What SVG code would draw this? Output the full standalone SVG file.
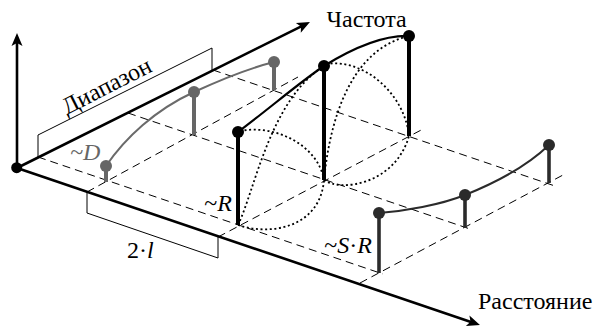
<svg xmlns="http://www.w3.org/2000/svg" width="593" height="326" viewBox="0 0 593 326">
<style>
.axis{stroke:#000;stroke-width:2.6;fill:none}
.dash{stroke:#000;stroke-width:1;stroke-dasharray:8,5;fill:none}
.dot{stroke:#000;stroke-width:1.8;stroke-dasharray:2,2.6;fill:none}
.br{stroke:#000;stroke-width:1;fill:none}
.stemK{stroke:#000;stroke-width:4}
.stemG{stroke:#666;stroke-width:4}
.stemD{stroke:#2b2b2b;stroke-width:3.6}
.crvK{stroke:#000;stroke-width:2.2;fill:none}
.crvG{stroke:#6a6a6a;stroke-width:2;fill:none}
.crvD{stroke:#2b2b2b;stroke-width:2;fill:none}
</style>
<defs>
<marker id="arr" viewBox="-6 -6 15 12" refX="0" refY="0" markerWidth="15" markerHeight="12" orient="auto" markerUnits="userSpaceOnUse">
<path d="M8,0 L-5,-5.5 L-2,0 L-5,5.5 Z" fill="#000"/>
</marker>
</defs>
<g id="grid">
<path class="dash" d="M38,157 L383,274"/>
<path class="dash" d="M128,113 L470,229"/>
<path class="dash" d="M213,70 L555,186"/>
<path class="dash" d="M87,192 L298,77"/>
<path class="dash" d="M218,237 L425,128"/>
<path class="dash" d="M360,283 L563,175"/>
</g>
<g id="connectors">
<path class="dot" d="M240,131 C275,124 318,145 324,180"/>
<path class="dot" d="M326,64 C365,58 405,95 409,136"/>
<path class="dot" d="M238,225 C270,236 320,228 324,180"/>
<path class="dot" d="M324,180 C340,192 395,185 409,136"/>
<path class="dot" d="M238,225 C255,190 270,100 324,66"/>
<path class="dot" d="M324,180 C330,120 350,50 409,36"/>
</g>
<g id="axes">
<line class="axis" x1="17" y1="168" x2="17" y2="41" marker-end="url(#arr)"/>
<line class="axis" x1="17" y1="168" x2="302.8" y2="25.6" marker-end="url(#arr)"/>
<line class="axis" x1="17" y1="168" x2="472.4" y2="322.4" marker-end="url(#arr)"/>
<circle cx="16.7" cy="167.7" r="5.5" fill="#000"/>
<text x="326.5" y="27" style="font-family:'Liberation Serif',serif;font-size:24px">Частота</text>
<text x="478" y="309" style="font-family:'Liberation Serif',serif;font-size:24px">Расстояние</text>
</g>
<g id="range">
<polyline class="br" points="38,157 38,135 212,48 212,70"/>
<text transform="translate(110,93) rotate(-27)" text-anchor="middle" style="font-family:'Liberation Serif',serif;font-size:24px">Диапазон</text>
</g>
<g id="interval">
<polyline class="br" points="87,192 87,213 218,258 218,237"/>
<text x="127" y="258" style="font-family:'Liberation Serif',serif;font-size:24px">2·<tspan style="font-style:italic">l</tspan></text>
</g>
<g id="series-D">
<path class="crvG" d="M106,166 C125,138 155,110 194,92 C220,80 250,68 274,62"/>
<line class="stemG" x1="106" y1="182" x2="106" y2="166"/>
<line class="stemG" x1="194" y1="135" x2="194" y2="92"/>
<line class="stemG" x1="274" y1="90" x2="274" y2="62"/>
<circle cx="106" cy="166" r="6" fill="#666"/>
<circle cx="194" cy="92" r="6" fill="#666"/>
<circle cx="274" cy="62" r="6" fill="#666"/>
<text x="70" y="160" style="font-family:'Liberation Serif',serif;font-size:24px;font-style:italic;fill:#666">~D</text>
</g>
<g id="series-R">
<path class="crvK" d="M238,132 C270,108 300,82 324,66 C350,50 380,35 409,36"/>
<line class="stemK" x1="238" y1="225" x2="238" y2="132"/>
<line class="stemK" x1="324" y1="180" x2="324" y2="66"/>
<line class="stemK" x1="409" y1="136" x2="409" y2="36"/>
<circle cx="238" cy="132" r="6" fill="#000"/>
<circle cx="324" cy="66" r="6" fill="#000"/>
<circle cx="409" cy="36" r="6" fill="#000"/>
<text x="232" y="211" text-anchor="end" style="font-family:'Liberation Serif',serif;font-size:24px">~<tspan style="font-style:italic">R</tspan></text>
</g>
<g id="series-SR">
<path class="crvD" d="M379,213 C405,211 440,205 465,195 C495,183 525,168 549,145"/>
<line class="stemD" x1="379" y1="273" x2="379" y2="213"/>
<line class="stemD" x1="465" y1="228" x2="465" y2="195"/>
<line class="stemD" x1="549" y1="183" x2="549" y2="145"/>
<circle cx="379" cy="213" r="6" fill="#2b2b2b"/>
<circle cx="465" cy="195" r="6" fill="#2b2b2b"/>
<circle cx="549" cy="145" r="6" fill="#2b2b2b"/>
<text x="372" y="253" text-anchor="end" style="font-family:'Liberation Serif',serif;font-size:24px">~<tspan style="font-style:italic">S</tspan>·<tspan style="font-style:italic">R</tspan></text>
</g>
</svg>
